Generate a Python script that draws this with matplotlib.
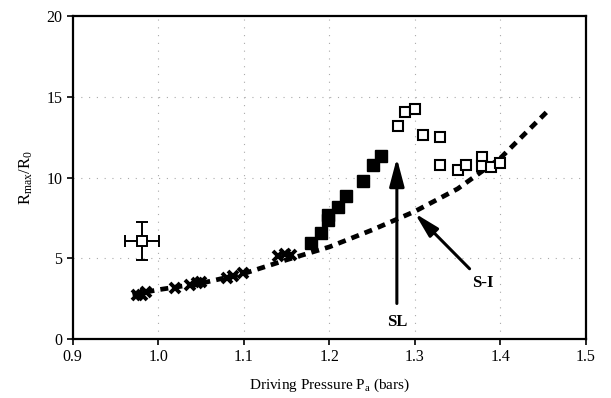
import matplotlib
matplotlib.use("Agg")
import matplotlib.pyplot as plt

plt.rcParams['font.family'] = ['Liberation Serif', 'DejaVu Serif']
plt.rcParams['mathtext.fontset'] = 'custom'
plt.rcParams['mathtext.rm'] = 'Liberation Serif'
plt.rcParams['mathtext.it'] = 'Liberation Serif:italic'
plt.rcParams['mathtext.bf'] = 'Liberation Serif:bold'

# crosses (S-I data)
cross_x = [0.975, 0.981, 0.986, 1.020, 1.037, 1.045, 1.050, 1.080, 1.088, 1.099, 1.140, 1.148, 1.155]
cross_y = [2.70, 2.75, 2.90, 3.14, 3.35, 3.45, 3.50, 3.76, 3.90, 4.10, 5.15, 5.25, 5.20]

# filled squares
filled_x = [1.179, 1.190, 1.199, 1.199, 1.210, 1.219, 1.239, 1.251, 1.260]
filled_y = [5.93, 6.58, 7.35, 7.70, 8.19, 8.85, 9.78, 10.77, 11.35]

# open squares
open_x = [1.280, 1.289, 1.300, 1.310, 1.330, 1.330, 1.350, 1.360, 1.379, 1.379, 1.389, 1.400]
open_y = [13.2, 14.04, 14.22, 12.61, 12.5, 10.75, 10.44, 10.75, 11.29, 10.73, 10.63, 10.88]

# error-bar point
err_x, err_y = [0.981], [6.07]
err_dx, err_dy = [0.02], [1.15]

# S-I theory curve
curve_x = [0.970, 1.000, 1.050, 1.100, 1.150, 1.200, 1.250, 1.300, 1.350, 1.400, 1.455]
curve_y = [2.75, 3.05, 3.45, 4.05, 4.90, 5.70, 6.75, 7.90, 9.30, 11.20, 14.10]

xticks = [0.9, 1.0, 1.1, 1.2, 1.3, 1.4, 1.5]
xticklabels = ['0.9', '1.0', '1.1', '1.2', '1.3', '1.4', '1.5']
yticks = [0, 5, 10, 15, 20]

fig = plt.figure(figsize=(6.11, 3.98), dpi=100)
ax = fig.add_axes([0.1188, 0.1482, 0.959 - 0.1188, 0.9598 - 0.1482])

ax.set_xlim(0.9, 1.5)
ax.set_ylim(0, 20)
ax.set_xticks(xticks)
ax.set_xticklabels(xticklabels)
ax.set_yticks(yticks)
ax.tick_params(direction='out', length=4, width=1.2, labelsize=11.5, colors='black')
for s in ax.spines.values():
    s.set_linewidth(1.6)

# grid
for xv in [1.0, 1.1, 1.2, 1.3, 1.4]:
    ax.axvline(xv, color='#aaaaaa', linewidth=0.8, linestyle=(0, (1, 6)), zorder=0)
for yv in [5, 10, 15]:
    ax.axhline(yv, color='#aaaaaa', linewidth=0.8, linestyle=(0, (1, 6)), zorder=0)

ax.plot(curve_x, curve_y, color='black', linewidth=3.4, linestyle=(0, (1.7, 1.3)), zorder=2)

ax.plot(cross_x, cross_y, linestyle='none', marker='x', markersize=7.5, mew=2.8, color='black', zorder=3)
ax.plot(filled_x, filled_y, linestyle='none', marker='s', markersize=8.5, color='black', zorder=3)
ax.plot(open_x, open_y, linestyle='none', marker='s', markersize=7, mfc='white', mec='black', mew=1.5, zorder=3)
ax.errorbar(err_x, err_y, xerr=err_dx, yerr=err_dy, fmt='s', markersize=7, mfc='white', mec='black', mew=1.4,
            ecolor='black', elinewidth=1.4, capsize=4, capthick=1.4, zorder=3)

# SL arrow
ax.annotate('', xy=(1.279, 11.2), xytext=(1.279, 2.2),
            arrowprops=dict(arrowstyle='-|>,head_length=1.7,head_width=0.45', color='black', lw=2.2,
                            shrinkA=0, shrinkB=0))
ax.text(1.28, 1.05, 'SL', ha='center', va='center', fontsize=12, fontweight='bold')

# S-I arrow
ax.annotate('', xy=(1.300, 7.78), xytext=(1.364, 4.35),
            arrowprops=dict(arrowstyle='-|>,head_length=1.5,head_width=0.38', color='black', lw=2.2,
                            shrinkA=0, shrinkB=0))
ax.text(1.379, 3.45, 'S-I', ha='center', va='center', fontsize=12, fontweight='bold')

ax.set_xlabel(r'Driving Pressure P$_{\rm a}$ (bars)', fontsize=11, labelpad=8)
ax.set_ylabel(r'R$_{\rm max}$/R$_0$', fontsize=12, labelpad=8)

fig.savefig('out.png', dpi=100)
